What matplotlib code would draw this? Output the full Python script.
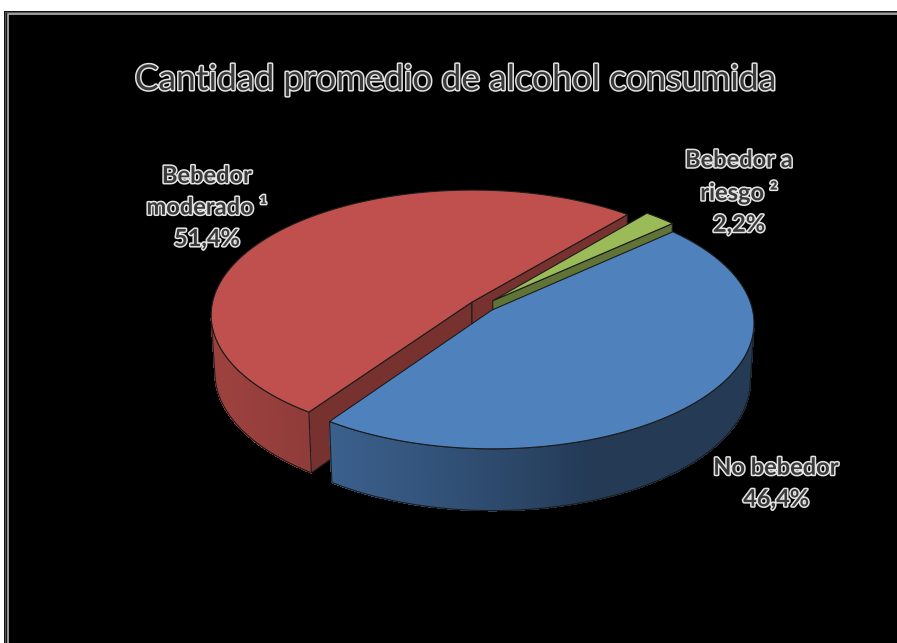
import numpy as np
import matplotlib.pyplot as plt
import matplotlib.patheffects as pe
from matplotlib.patches import Polygon, Rectangle
from matplotlib.collections import PolyCollection

# Data (slice order follows the worksheet: blue, red, green, drawn clockwise)
labels = ['No bebedor', 'Bebedor moderado ¹', 'Bebedor a riesgo ²']
label_lines = ['No bebedor', 'Bebedor\nmoderado ¹', 'Bebedor a\nriesgo ²']
values = [46.4, 51.4, 2.2]
colors = ['#4F81BD', '#C0504D', '#9BBB59']
explode = [0.05, 0.05, 0.06]
title = 'Cantidad promedio de alcohol consumida'

# 3D view settings (pixel space)
W, H = 897, 643
cx, cy = 482, 306
elev = np.radians(28.5)
ce, se = np.cos(elev), np.sin(elev)
D = 8.84
F = 2298.0
depth = 0.255
start = 42.0

def proj(X, Y, Z):
    dist = D + Y * ce - Z * se
    return cx + F * X / dist, cy - F * (Y * se + Z * ce) / dist

def dist_of(X, Y, Z):
    return D + np.asarray(Y) * ce - np.asarray(Z) * se

def shade(hexcol, f):
    c = np.array([int(hexcol[i:i + 2], 16) for i in (1, 3, 5)]) / 255.0
    return tuple(np.clip(c * f, 0, 1))

def side_factor(t):
    return 0.45 + 0.36 * max(0.0, np.cos(np.radians(t - 200)))

fig = plt.figure(figsize=(W / 100, H / 100), dpi=100)
fig.patch.set_facecolor('white')
ax = fig.add_axes([0, 0, 1, 1])
ax.set_xlim(0, W)
ax.set_ylim(H, 0)
ax.axis('off')

# black panel; grey frame only on the left and top, the rest runs off the image
ax.add_patch(Rectangle((4, 11), W, H, facecolor='black', edgecolor='none', zorder=0))
ax.plot([4.5, 4.5, W], [H, 11.5, 11.5], color='#555555', lw=1.0, zorder=1)
ax.plot([7.5, 7.5, W], [H, 13.8, 13.8], color='#a8a8a8', lw=1.3, zorder=1)

edge = '#1c1c1c'
total = sum(values)
sides = []   # (dist, kind, data)
tops = []

ang = start
for val, col, ex in zip(values, colors, explode):
    span = 360.0 * val / total
    t_hi, t_lo = ang, ang - span
    ang = t_lo
    mid = np.radians((t_hi + t_lo) / 2)
    ox, oy = ex * np.cos(mid), ex * np.sin(mid)

    th = np.radians(np.linspace(t_lo, t_hi, 240))
    rx, ry = ox + np.cos(th), oy + np.sin(th)

    # top face
    X = np.concatenate([[ox], rx])
    Y = np.concatenate([[oy], ry])
    u, v = proj(X, Y, 0 * X)
    tops.append((dist_of(X, Y, 0).mean(), np.column_stack([u, v]), col))

    # outer side, only the part facing the camera
    vis = (-(rx - ox) * rx - (D * ce + ry) * (ry - oy)) > 0
    if vis.any():
        idx = np.where(vis)[0]
        segs = np.split(idx, np.where(np.diff(idx) > 1)[0] + 1)
        for sg in segs:
            if len(sg) < 2:
                continue
            ux, vy = proj(rx[sg], ry[sg], 0 * rx[sg])
            bx, by = proj(rx[sg], ry[sg], -depth + 0 * rx[sg])
            quads, fcs = [], []
            for i in range(len(sg) - 1):
                quads.append([(ux[i], vy[i]), (ux[i + 1], vy[i + 1]),
                              (bx[i + 1], by[i + 1]), (bx[i], by[i])])
                fcs.append(shade(col, side_factor(np.degrees(th[sg[i]]))))
            outline = np.vstack([np.column_stack([ux, vy]),
                                 np.column_stack([bx, by])[::-1]])
            d = dist_of(rx[sg], ry[sg], -depth / 2).mean()
            sides.append((d, 'curve', (quads, fcs, outline)))

    # flat cut faces at the two radial edges
    for t, sgn in ((t_lo, -1), (t_hi, 1)):
        a = np.radians(t)
        nx, ny = np.cos(a + sgn * np.pi / 2), np.sin(a + sgn * np.pi / 2)
        px, py = ox + 0.5 * np.cos(a), oy + 0.5 * np.sin(a)
        if (-px) * nx + (-D * ce - py) * ny <= 0:
            continue
        Xf = np.array([ox, ox + np.cos(a), ox + np.cos(a), ox])
        Yf = np.array([oy, oy + np.sin(a), oy + np.sin(a), oy])
        Zf = np.array([0, 0, -depth, -depth])
        u, v = proj(Xf, Yf, Zf)
        sides.append((dist_of(Xf, Yf, Zf).mean(), 'flat',
                      (np.column_stack([u, v]), shade(col, 0.62))))

# paint far-to-near: sides first, then the top faces
for d, kind, data in sorted(sides, key=lambda s: -s[0]):
    if kind == 'curve':
        quads, fcs, outline = data
        ax.add_collection(PolyCollection(quads, facecolors=fcs, edgecolors=fcs,
                                         linewidths=0.6, antialiaseds=False, zorder=2))
        ax.add_patch(Polygon(outline, closed=True, fill=False, edgecolor=edge,
                             lw=0.8, zorder=2))
    else:
        pts, fc = data
        ax.add_patch(Polygon(pts, closed=True, facecolor=fc, edgecolor=edge,
                             lw=0.8, zorder=2))

for d, pts, col in sorted(tops, key=lambda s: -s[0]):
    ax.add_patch(Polygon(pts, closed=True, facecolor=col, edgecolor=edge,
                         lw=0.8, zorder=3))

# outlined text
stroke = [pe.withStroke(linewidth=2.2, foreground='#e4e4e4')]
ax.text(455, 80, title, ha='center', va='center', fontsize=25.5,
        family=['Lato', 'DejaVu Sans'], color='#3a3a3a', path_effects=stroke, zorder=5)

label_pos = [(776, 483), (207, 207), (739, 192)]
for txt, val, (lx, ly) in zip(label_lines, values, label_pos):
    pct = f'{val:.1f}'.replace('.', ',') + '%'
    ax.text(lx, ly, txt + '\n' + pct, ha='center', va='center', fontsize=17,
            family=['Lato', 'DejaVu Sans'], fontweight='bold', color='#3a3a3a',
            linespacing=1.45, path_effects=stroke, zorder=5)

fig.savefig('out.png', dpi=100, facecolor=fig.get_facecolor())
